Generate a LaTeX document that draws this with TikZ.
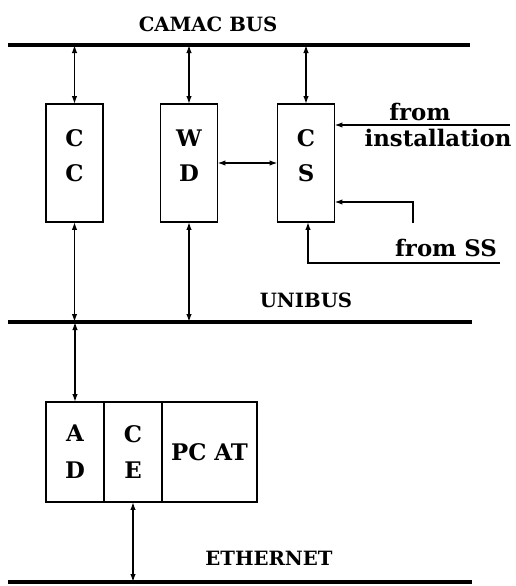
\documentclass[tikz,border=0pt]{standalone}
\usepackage{fontspec}
\setmainfont{DejaVu Serif}
\usetikzlibrary{arrows.meta,positioning}

\begin{document}
\begin{tikzpicture}[x=0.02cm,y=-0.02cm,
  bus/.style={line width=0.09cm},
  unit/.style={draw, line width=0.8pt, minimum width=1.14cm, minimum height=2.36cm, inner sep=0pt, outer sep=0pt},
  part/.style={draw, line width=0.8pt, minimum height=2cm, inner sep=0pt, outer sep=0pt, align=center, font=\fontsize{13}{15}\selectfont\bfseries},
  lbl/.style={font=\fontsize{13}{15}\selectfont\bfseries, align=center, inner sep=1pt},
  buslbl/.style={font=\fontsize{11.2}{13}\selectfont\bfseries, inner sep=1pt},
  link/.style={line width=0.8pt, {Latex[length=0.16cm,width=0.11cm]}-{Latex[length=0.16cm,width=0.11cm]}},
  feed/.style={line width=0.8pt, -{Latex[length=0.16cm,width=0.11cm]}}]
\useasboundingbox (0,0) rectangle (515,586);

% buses
\coordinate (camacL) at (8,45);
\coordinate (camacR) at (470,45);
\coordinate (uniL) at (8,322);
\coordinate (uniR) at (472,322);
\coordinate (ethL) at (8,582);
\coordinate (ethR) at (472,582);
\draw[bus] (camacL) -- (camacR);
\draw[bus] (uniL) -- (uniR);
\draw[bus] (ethL) -- (ethR);
\node[buslbl] (camacT) at (208,24) {CAMAC BUS};
\node[buslbl] (uniT) at (306,300) {UNIBUS};
\node[buslbl] (ethT) at (269,558) {ETHERNET};

% CAMAC units
\node[unit] (cc) at (74.5,163) {};
\node[unit] (wd) at (189,163) {};
\node[unit] (cs) at (306,163) {};
\node[lbl] (ccT) at (74.5,156) {C\\[5pt]C};
\node[lbl] (wdT) at (189,156) {W\\[5pt]D};
\node[lbl] (csT) at (306,156) {C\\[5pt]S};

\draw[link] (cc.north |- camacL) -- (cc.north);
\draw[link] (wd.north |- camacL) -- (wd.north);
\draw[link] (cs.north |- camacL) -- (cs.north);
\draw[link] (wd.east |- 0,163) -- (cs.west |- 0,163);
\draw[link] (cc.south) -- (cc.south |- uniL);
\draw[link] (wd.south) -- (wd.south |- uniL);

% inputs to CS
\coordinate (inst) at (510,125);
\coordinate (ssA) at (413,223);
\coordinate (ssB) at (413,202);
\coordinate (ssC) at (500,263);
\coordinate (ssD) at (308,263);
\draw[feed] (inst) -- (cs.east |- inst);
\draw[feed] (ssA) -- (ssB) -- (cs.east |- ssB);
\draw[feed] (ssC) -- (ssD) -- (ssD |- cs.south);
\node[lbl, anchor=south] (fromT) at (420,123) {from};
\node[lbl, anchor=north] (instT) at (438,127) {installation};
\node[lbl, anchor=south] (ssT) at (446,259) {from SS};

% PC AT with interfaces
\node[part, minimum width=1.16cm] (ad) at (75,452) {A\\[6pt]D};
\node[part, minimum width=1.16cm, right=0pt of ad] (ce) {C\\[6pt]E};
\node[part, minimum width=1.9cm, right=0pt of ce] (pc) {PC AT};

\draw[link] (ad.north |- uniL) -- (ad.north |- 0,402);
\draw[link] (ce.south) -- (ce.south |- ethL);
\end{tikzpicture}
\end{document}
